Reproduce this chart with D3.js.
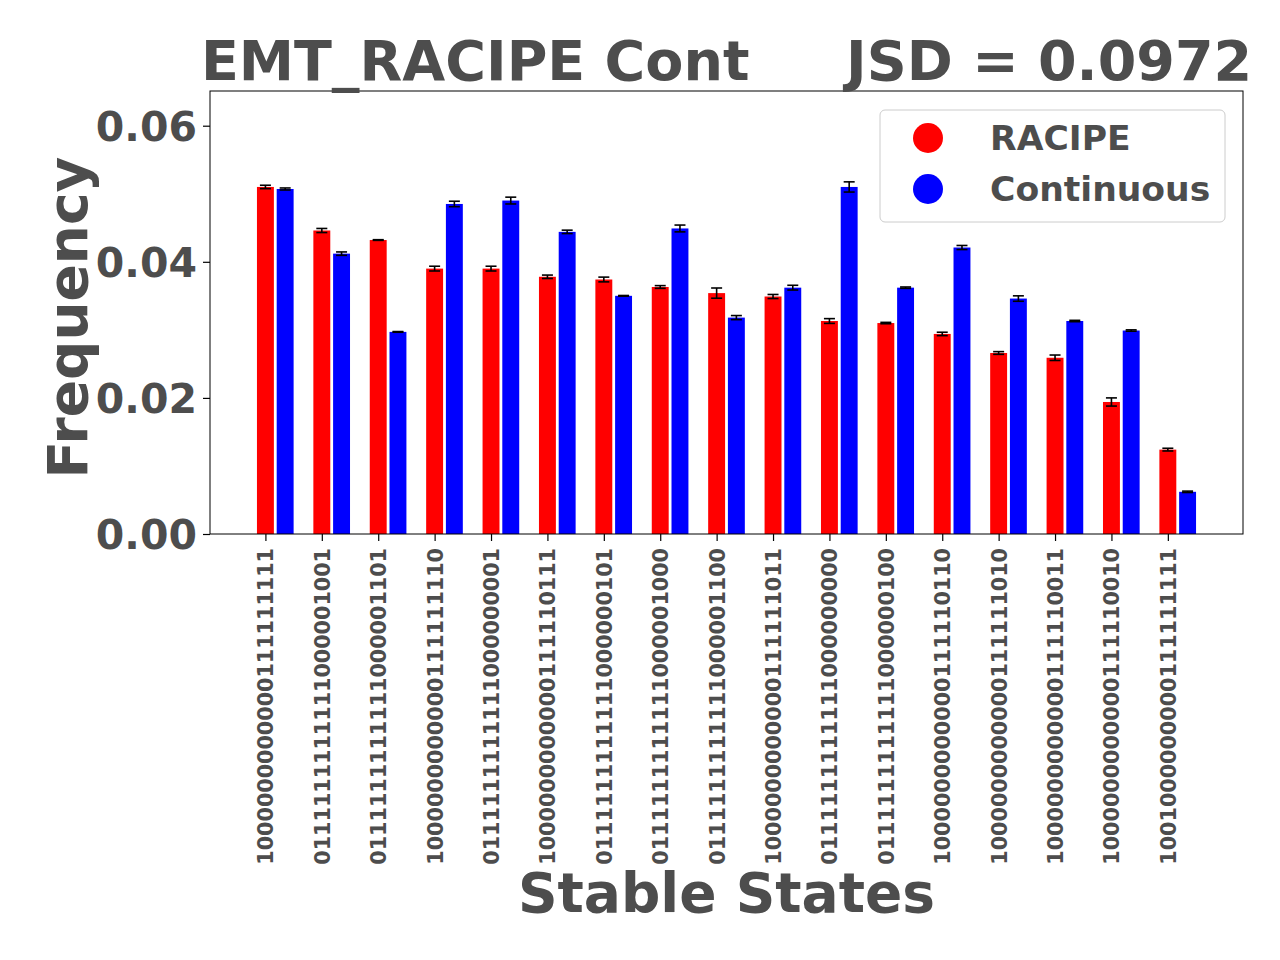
<!DOCTYPE html>
<html>
<head>
<meta charset="utf-8">
<script src="https://cdn.jsdelivr.net/npm/d3@7"></script>
<style>
  body { margin: 0; background: #fff; }
  text { font-family: "DejaVu Sans", sans-serif; font-weight: bold; fill: #4d4d4d; }
</style>
</head>
<body>
<div id="chart"></div>
<script>
// stable states (22 nodes) and their frequencies
var states = [
  "1000000000000111111111", "0111111111111000001001", "0111111111111000001101",
  "1000000000000111111110", "0111111111111000000001", "1000000000000111110111",
  "0111111111111000000101", "0111111111111000001000", "0111111111111000001100",
  "1000000000000111111011", "0111111111111000000000", "0111111111111000000100",
  "1000000000000111110110", "1000000000000111111010", "1000000000000111110011",
  "1000000000000111110010", "1001000000000111111111"
];
var racipe = [0.0510, 0.0446, 0.0432, 0.0390, 0.0390, 0.0378, 0.0374, 0.0363, 0.0354,
              0.0349, 0.0313, 0.0310, 0.0294, 0.0266, 0.0259, 0.0194, 0.0124];
var racipeErr = [0.00025, 0.0003, 0.00005, 0.00035, 0.00035, 0.00025, 0.00035, 0.0002, 0.00075,
                 0.0003, 0.00035, 0.0001, 0.00025, 0.0002, 0.0004, 0.0006, 0.0002];
var cont = [0.0507, 0.0412, 0.0297, 0.0485, 0.0490, 0.0444, 0.0350, 0.0449, 0.0318,
            0.0362, 0.0510, 0.0362, 0.0421, 0.0346, 0.0313, 0.0299, 0.0062];
var contErr = [0.00015, 0.00025, 0.00005, 0.0004, 0.0005, 0.00025, 0.00005, 0.0005, 0.0003,
               0.00035, 0.00075, 0.0001, 0.0003, 0.0004, 0.0001, 0.0001, 0.0001];
var yTicks = [0, 0.02, 0.04, 0.06];
var series = [
  {name: "RACIPE", color: "red", values: racipe, err: racipeErr, offset: 0},
  {name: "Continuous", color: "blue", values: cont, err: contErr, offset: 0.35}
];
var barWidth = 0.3;

var W = 1280, H = 960;
var margin = {top: 91, right: 37, bottom: 426, left: 210};
var width = W - margin.left - margin.right,
    height = H - margin.top - margin.bottom;

var svg = d3.select("#chart").append("svg")
    .attr("width", W)
    .attr("height", H);

var g = svg.append("g")
    .attr("transform", "translate(" + margin.left + "," + margin.top + ")");

// same padding rule as matplotlib: 5% of the data extent
var lo = -barWidth / 2, hi = states.length - 1 + 0.35 + barWidth / 2;
var pad = (hi - lo) * 0.05;
var x = d3.scaleLinear().domain([lo - pad, hi + pad]).range([0, width]);
var y = d3.scaleLinear().domain([0, 0.0651]).range([height, 0]);

//bars
series.forEach(function (s) {
  g.append("g")
    .selectAll("rect")
    .data(s.values)
    .enter().append("rect")
    .attr("x", function (d, i) { return x(i + s.offset - barWidth / 2); })
    .attr("width", x(barWidth) - x(0))
    .attr("y", function (d) { return y(d); })
    .attr("height", function (d) { return y(0) - y(d); })
    .attr("fill", s.color);
});

//error bars
series.forEach(function (s) {
  var eb = g.append("g").attr("stroke", "black").attr("stroke-width", 1.6);
  s.values.forEach(function (d, i) {
    var cx = x(i + s.offset), e = s.err[i];
    eb.append("line").attr("x1", cx).attr("x2", cx).attr("y1", y(d - e)).attr("y2", y(d + e));
    [d - e, d + e].forEach(function (v) {
      eb.append("line").attr("x1", cx - 5.5).attr("x2", cx + 5.5).attr("y1", y(v)).attr("y2", y(v));
    });
  });
});

// frame
g.append("rect")
  .attr("width", width).attr("height", height)
  .attr("fill", "none").attr("stroke", "black").attr("stroke-width", 1);

//y axis
var yAxis = g.append("g")
  .call(d3.axisLeft(y).tickValues(yTicks).tickFormat(d3.format(".2f")).tickSize(7).tickPadding(6));
yAxis.select(".domain").remove();
yAxis.selectAll("line").attr("stroke", "black").attr("stroke-width", 1.2);
yAxis.selectAll("text").style("font-size", "41px").attr("fill", "#4d4d4d").attr("dy", "0.36em");

//x axis
var xAxis = g.append("g")
  .attr("transform", "translate(0," + height + ")")
  .call(d3.axisBottom(x).tickValues(d3.range(states.length))
        .tickFormat(function (i) { return states[i]; }).tickSize(7));
xAxis.select(".domain").remove();
xAxis.selectAll("line").attr("stroke", "black").attr("stroke-width", 1.2);
xAxis.selectAll("text")
  .style("font-size", "20.7px")
  .attr("fill", "#4d4d4d")
  .attr("text-anchor", "end")
  .attr("transform", "rotate(-90)")
  .attr("x", -14)
  .attr("y", 0)
  .attr("dy", "0.36em");

// title and axis titles
svg.append("text")
  .attr("x", margin.left + width / 2).attr("y", 80)
  .attr("text-anchor", "middle")
  .style("font-size", "55.5px")
  .style("white-space", "pre")
  .text("EMT_RACIPE Cont     JSD = 0.0972");

svg.append("text")
  .attr("transform", "translate(87," + (margin.top + height / 2 + 5) + ") rotate(-90)")
  .attr("text-anchor", "middle")
  .style("font-size", "55px")
  .text("Frequency");

svg.append("text")
  .attr("x", margin.left + width / 2).attr("y", 912)
  .attr("text-anchor", "middle")
  .style("font-size", "55px")
  .text("Stable States");

//legend
var legend = svg.append("g").attr("transform", "translate(880,110)");
legend.append("rect")
  .attr("width", 345).attr("height", 112).attr("rx", 5)
  .attr("fill", "white").attr("fill-opacity", 0.8)
  .attr("stroke", "#cccccc").attr("stroke-width", 1);
series.forEach(function (s, i) {
  legend.append("circle")
    .attr("cx", 48).attr("cy", 28 + i * 51).attr("r", 15)
    .attr("fill", s.color);
  legend.append("text")
    .attr("x", 110).attr("y", 28 + i * 51).attr("dy", "0.36em")
    .style("font-size", "34.6px")
    .text(s.name);
});
</script>
</body>
</html>
